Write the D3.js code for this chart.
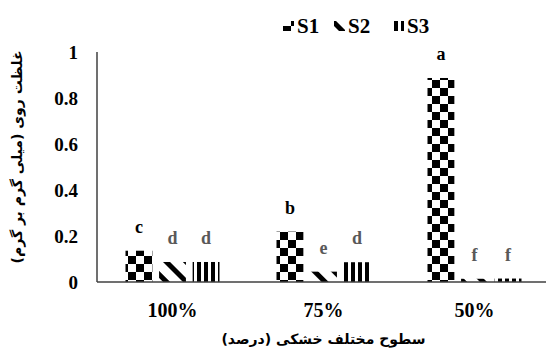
<!DOCTYPE html>
<meta charset="utf-8">
<style>
body { margin: 0; background: #fff; }
text { font-family: "Liberation Serif", "Times New Roman", serif; font-weight: bold; }
.fa { font-family: "DejaVu Sans", sans-serif; font-weight: bold; }
</style>
<svg width="548" height="354"></svg>
<script src="https://d3js.org/d3.v7.min.js"></script>
<script>

var categories = ["100%", "75%", "50%"];
var series = ["S1", "S2", "S3"];
var S1 = [0.136, 0.219, 0.887];
var S2 = [0.087, 0.045, 0.014];
var S3 = [0.087, 0.086, 0.015];
var letters = {
  S1: ["c", "b", "a"],
  S2: ["d", "e", "f"],
  S3: ["d", "d", "f"]
};
var yTicks = [0, 0.2, 0.4, 0.6, 0.8, 1];

var values = { S1: S1, S2: S2, S3: S3 };

var svg = d3.select("svg"),
    mLeft = 97, mRight = 550, mTop = 52, mBottom = 282;

var defs = svg.append("defs");

// checkerboard
var p1 = defs.append("pattern").attr("id", "pS1")
    .attr("patternUnits", "userSpaceOnUse").attr("width", 16).attr("height", 16);
p1.append("rect").attr("width", 16).attr("height", 16).attr("fill", "#fff");
p1.append("rect").attr("width", 8).attr("height", 8).attr("fill", "#000");
p1.append("rect").attr("x", 8).attr("y", 8).attr("width", 8).attr("height", 8).attr("fill", "#000");

// wide diagonal
var p2 = defs.append("pattern").attr("id", "pS2")
    .attr("patternUnits", "userSpaceOnUse").attr("width", 14).attr("height", 14)
    .attr("patternTransform", "rotate(-45)");
p2.append("rect").attr("width", 14).attr("height", 14).attr("fill", "#fff");
p2.append("rect").attr("x", 0).attr("width", 5).attr("height", 14).attr("fill", "#000");

// vertical stripes
var p3 = defs.append("pattern").attr("id", "pS3")
    .attr("patternUnits", "userSpaceOnUse").attr("width", 7).attr("height", 7);
p3.append("rect").attr("width", 7).attr("height", 7).attr("fill", "#fff");
p3.append("rect").attr("x", 1).attr("width", 4).attr("height", 7).attr("fill", "#000");

var x0 = d3.scaleBand().domain(categories).range([mLeft, mRight]);
var x1 = d3.scaleBand().domain(series).range([-47, 47]).paddingInner(0.2);
var y = d3.scaleLinear().domain([0, 1]).range([mBottom, mTop]);

// bars
series.forEach(function(s) {
  var g = svg.append("g");
  g.selectAll("rect").data(categories).enter().append("rect")
      .attr("x", function(c) { return x0(c) + x0.bandwidth() / 2 + x1(s); })
      .attr("y", function(c, i) { return y(values[s][i]); })
      .attr("width", x1.bandwidth())
      .attr("height", function(c, i) { return mBottom - y(values[s][i]); })
      .attr("fill", "url(#p" + s + ")");
  g.selectAll("text").data(categories).enter().append("text")
      .attr("x", function(c) { return x0(c) + x0.bandwidth() / 2 + x1(s) + x1.bandwidth() / 2; })
      .attr("y", function(c, i) { return y(values[s][i]) - 18; })
      .attr("text-anchor", "middle")
      .attr("font-size", 18)
      .attr("fill", s === "S1" ? "#000" : "#595959")
      .text(function(c, i) { return letters[s][i]; });
});

// axes
svg.append("line").attr("x1", mLeft).attr("x2", 546).attr("y1", mBottom).attr("y2", mBottom)
    .attr("stroke", "#404040").attr("stroke-width", 1.5);
svg.append("line").attr("x1", mLeft).attr("x2", mLeft).attr("y1", mTop).attr("y2", mBottom)
    .attr("stroke", "#404040").attr("stroke-width", 1.5);

svg.selectAll(".ytick").data(yTicks).enter().append("text")
    .attr("x", 78).attr("y", function(d) { return y(d); })
    .attr("dy", "0.35em")
    .attr("text-anchor", "end")
    .attr("font-size", 19)
    .text(function(d) { return d; });

svg.selectAll(".xtick").data(categories).enter().append("text")
    .attr("x", function(c) { return x0(c) + x0.bandwidth() / 2; })
    .attr("y", 317)
    .attr("text-anchor", "middle")
    .attr("font-size", 20)
    .text(function(c) { return c; });

svg.append("text").attr("class", "fa")
    .attr("x", x0("75%") + x0.bandwidth() / 2).attr("y", 344)
    .attr("text-anchor", "middle").attr("font-size", 14)
    .text("سطوح مختلف خشکی (درصد)");

svg.append("text").attr("class", "fa")
    .attr("transform", "translate(22,157) rotate(-90)")
    .attr("text-anchor", "middle").attr("font-size", 14)
    .text("غلظت روی (میلی گرم بر گرم)");

// legend
var legendX = [283, 334, 393];
var lg = svg.selectAll(".leg").data(series).enter().append("g")
    .attr("transform", function(d, i) { return "translate(" + legendX[i] + ",26)"; });
lg.append("rect").attr("x", 0).attr("y", -5).attr("width", 11).attr("height", 10)
    .attr("fill", function(d) { return "url(#p" + d + ")"; });
lg.append("text").attr("x", 14).attr("dy", "0.35em").attr("font-size", 21)
    .text(function(d) { return d; });

</script>
